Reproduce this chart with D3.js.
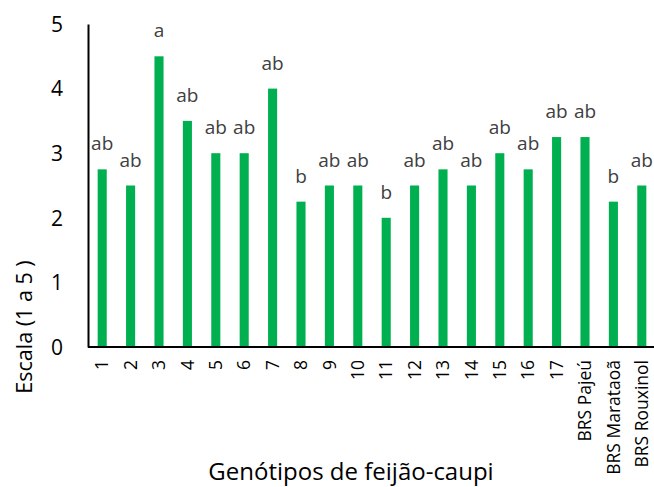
<!DOCTYPE html>
<html>
<head>
<meta charset="utf-8">
<script src="https://cdn.jsdelivr.net/npm/d3@7"></script>
<style>
  body { margin: 0; background: #fff; }
  svg { display: block; font-family: "Open Sans", sans-serif; }
</style>
</head>
<body>
<div id="chart"></div>
<script>
// Genotype scores with letter groups
const genotypes = ["1","2","3","4","5","6","7","8","9","10","11","12","13","14","15","16","17","BRS Pajeú","BRS Marataoã","BRS Rouxinol"];
const scores = [2.75, 2.5, 4.5, 3.5, 3, 3, 4, 2.25, 2.5, 2.5, 2, 2.5, 2.75, 2.5, 3, 2.75, 3.25, 3.25, 2.25, 2.5];
const letters = ["ab","ab","a","ab","ab","ab","ab","b","ab","ab","b","ab","ab","ab","ab","ab","ab","ab","b","ab"];
const yTicks = [0, 1, 2, 3, 4, 5];

const W = 654, H = 487;
const mLeft = 88, mRight = 656, mTop = 24, mBottom = 347;

const svg = d3.select("#chart").append("svg").attr("width", W).attr("height", H);

const x = d3.scaleBand().domain(genotypes).range([mLeft, mRight]).paddingInner(0.68).paddingOuter(0.34);
const y = d3.scaleLinear().domain([0, 5]).range([mBottom, mTop]);

// bars
svg.append("g").selectAll("rect").data(genotypes).join("rect")
    .attr("x", d => x(d))
    .attr("width", x.bandwidth())
    .attr("y", (d, i) => y(scores[i]))
    .attr("height", (d, i) => mBottom - y(scores[i]))
    .attr("fill", "#00b050");

// letters above bars
svg.append("g").selectAll("text").data(genotypes).join("text")
    .attr("x", d => x(d) + x.bandwidth() / 2)
    .attr("y", (d, i) => y(scores[i]) - 19)
    .attr("text-anchor", "middle")
    .attr("font-size", 19)
    .attr("fill", "#404040")
    .text((d, i) => letters[i]);

// y axis
const yAxis = svg.append("g").attr("transform", `translate(${mLeft},0)`)
    .call(d3.axisLeft(y).tickValues(yTicks).tickSize(0).tickPadding(25).tickFormat(d3.format("d")));
yAxis.select(".domain").attr("stroke", "#000").attr("stroke-width", 2);
yAxis.selectAll("text").attr("font-size", 21).attr("fill", "#000").attr("font-family", "Open Sans, sans-serif").attr("dy", "0.35em");

// x axis
const xAxis = svg.append("g").attr("transform", `translate(0,${mBottom})`)
    .call(d3.axisBottom(x).tickSize(0).tickPadding(0));
xAxis.select(".domain").attr("stroke", "#000").attr("stroke-width", 2).attr("d", `M${mLeft},0H${W}`);
xAxis.selectAll("text")
    .attr("font-size", 17.5)
    .attr("fill", "#000")
    .attr("font-family", "Open Sans, sans-serif")
    .attr("text-anchor", "end")
    .attr("transform", "rotate(-90)")
    .attr("x", -13)
    .attr("y", 0)
    .attr("dy", "0.35em");

// axis titles
svg.append("text")
    .attr("x", 351).attr("y", 480)
    .attr("text-anchor", "middle")
    .attr("font-size", 24)
    .attr("fill", "#000")
    .text("Genótipos de feijão-caupi");

svg.append("text")
    .attr("transform", "translate(32,327) rotate(-90)")
    .attr("text-anchor", "middle")
    .attr("font-size", 21.5)
    .attr("fill", "#000")
    .text("Escala (1 a 5 )");
</script>
</body>
</html>
